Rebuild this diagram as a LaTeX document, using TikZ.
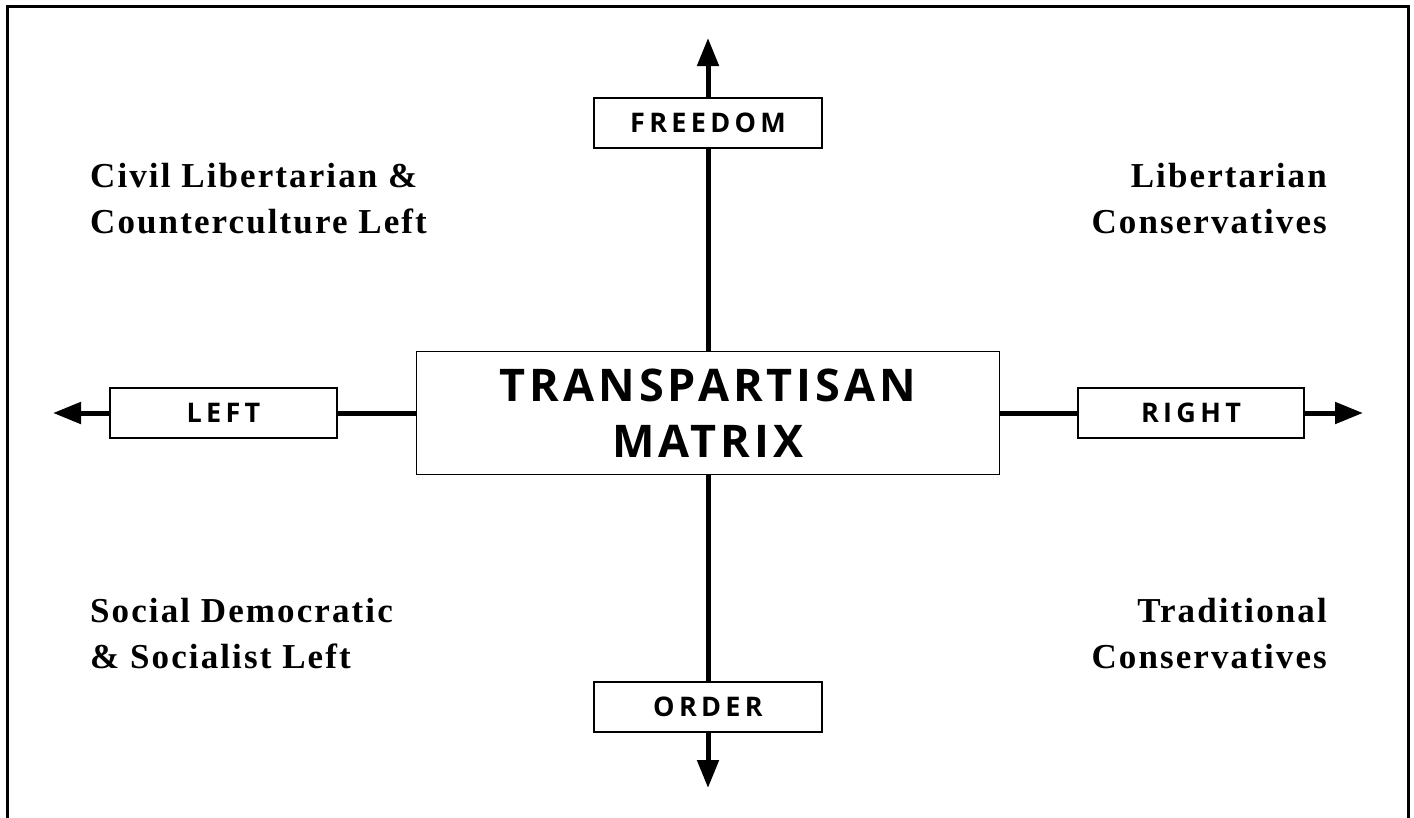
\documentclass[tikz,border=0pt]{standalone}
\usepackage{fontspec}
\usetikzlibrary{arrows.meta}
\newfontfamily\titlefont{Open Sans}[LetterSpace=9]
\newfontfamily\axisfont{Open Sans}[LetterSpace=16]
\newfontfamily\quadfont{Liberation Serif}[LetterSpace=6]
\tikzset{
  axisbox/.style={draw, line width=1.2pt, minimum width=228pt, minimum height=50pt, inner sep=0pt,
    font=\axisfont\bfseries\fontsize{27pt}{30pt}\selectfont},
  centerbox/.style={draw, line width=1.2pt, minimum width=583pt, minimum height=123pt, inner sep=0pt,
    align=center, font=\titlefont\bfseries\fontsize{45pt}{56pt}\selectfont},
  axisline/.style={line width=5pt},
  axisarrow/.style={line width=5pt, -{Triangle[length=28pt, width=21pt]}},
  quad/.style={inner sep=0pt, font=\quadfont\bfseries\fontsize{35pt}{46pt}\selectfont},
}
\begin{document}
\begin{tikzpicture}[x=1pt, y=-1pt]
\useasboundingbox (0,0) rectangle (1414,817);
% frame
\draw[line width=3pt] (7.5,820) -- (7.5,6.5) -- (1408.5,6.5) -- (1408.5,820);
% nodes
\node[centerbox] (center) at (708,413) {TRANSPARTISAN\\MATRIX};
\node[axisbox] (freedom) at (708,123) {FREEDOM};
\node[axisbox] (order) at (708,707) {ORDER};
\node[axisbox, minimum width=227pt] (left) at (223.5,413) {LEFT};
\node[axisbox, minimum width=226pt] (right) at (1191,413) {RIGHT};
\coordinate (toptip) at (708,38);
\coordinate (bottip) at (708,788);
\coordinate (lefttip) at (53,413);
\coordinate (righttip) at (1363,413);
% connectors
\draw[axisline] (center.north) -- (freedom.south);
\draw[axisarrow] (freedom.north) -- (toptip);
\draw[axisline] (center.south) -- (order.north);
\draw[axisarrow] (order.south) -- (bottip);
\draw[axisline] (center.west) -- (left.east);
\draw[axisarrow] (left.west) -- (lefttip);
\draw[axisline] (center.east) -- (right.west);
\draw[axisarrow] (right.east) -- (righttip);
% quadrant labels
\node[quad, anchor=base west] (q1) at (90,187) {Civil Libertarian \&};
\node[quad, anchor=base west] (q1b) at (90,233) {Counterculture Left};
\node[quad, anchor=base east] (q2) at (1327,187) {Libertarian};
\node[quad, anchor=base east] (q2b) at (1327,233) {Conservatives};
\node[quad, anchor=base west] (q3) at (90,622) {Social Democratic};
\node[quad, anchor=base west] (q3b) at (90,668) {\& Socialist Left};
\node[quad, anchor=base east] (q4) at (1327,622) {Traditional};
\node[quad, anchor=base east] (q4b) at (1327,668) {Conservatives};
\end{tikzpicture}
\end{document}
